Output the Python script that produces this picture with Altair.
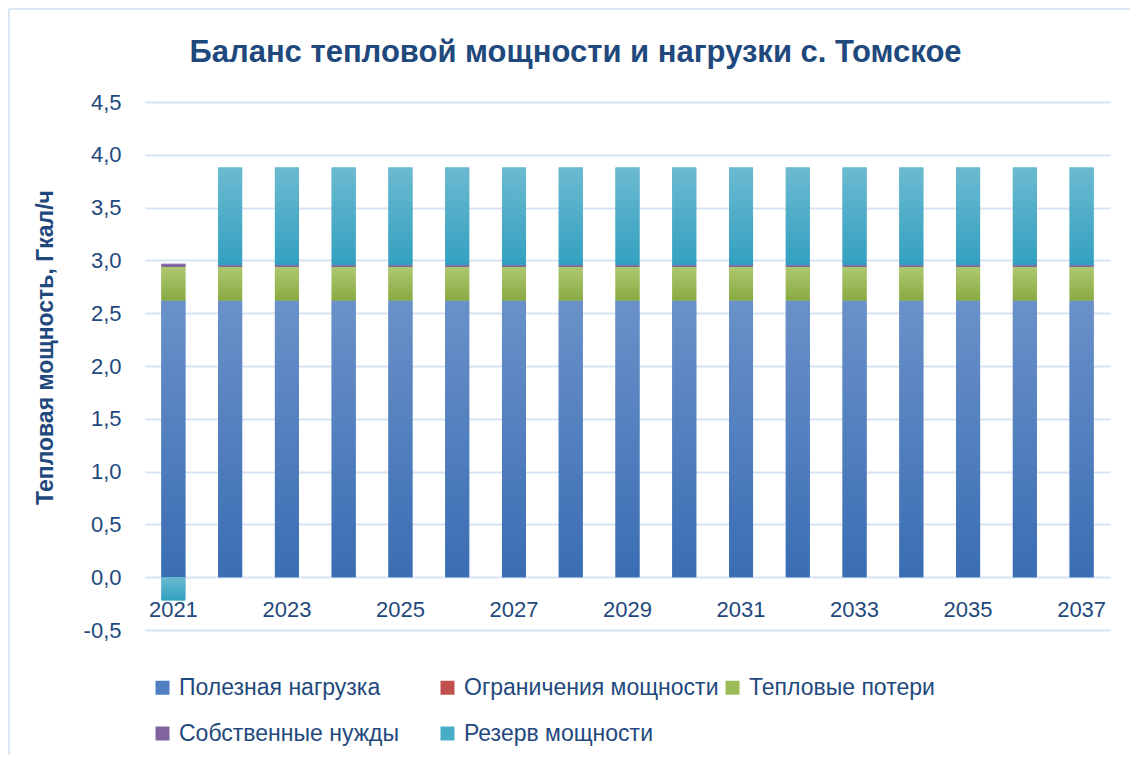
import altair as alt
import pandas as pd

years = [2021, 2022, 2023, 2024, 2025, 2026, 2027, 2028, 2029,
         2030, 2031, 2032, 2033, 2034, 2035, 2036, 2037]
useful_load = [2.62, 2.62, 2.62, 2.62, 2.62, 2.62, 2.62, 2.62, 2.62,
               2.62, 2.62, 2.62, 2.62, 2.62, 2.62, 2.62, 2.62]
limitations = [0.0, 0.0, 0.0, 0.0, 0.0, 0.0, 0.0, 0.0, 0.0,
               0.0, 0.0, 0.0, 0.0, 0.0, 0.0, 0.0, 0.0]
heat_losses = [0.32, 0.32, 0.32, 0.32, 0.32, 0.32, 0.32, 0.32, 0.32,
               0.32, 0.32, 0.32, 0.32, 0.32, 0.32, 0.32, 0.32]
own_needs = [0.028, 0.016, 0.016, 0.016, 0.016, 0.016, 0.016, 0.016, 0.016,
             0.016, 0.016, 0.016, 0.016, 0.016, 0.016, 0.016, 0.016]
reserve = [-0.22, 0.924, 0.924, 0.924, 0.924, 0.924, 0.924, 0.924, 0.924,
           0.924, 0.924, 0.924, 0.924, 0.924, 0.924, 0.924, 0.924]

series_names = ["Полезная нагрузка", "Ограничения мощности", "Тепловые потери",
                "Собственные нужды", "Резерв мощности"]
series_colors = ["#4F7FC0", "#C0504D", "#9BBB59", "#8064A2", "#4AADC8"]
# top / bottom shades for the gradient fill of each series
series_top = ["#6A91C9", "#CF6B68", "#AEC870", "#9279B3", "#6BBAD0"]
series_bottom = ["#3A6DB3", "#B03F3C", "#88AA42", "#6E5292", "#33A0C0"]
series_values = [useful_load, limitations, heat_losses, own_needs, reserve]

rows = []
for si, (name, vals) in enumerate(zip(series_names, series_values)):
    for y, v in zip(years, vals):
        rows.append({"year": y, "series": name, "value": v, "order": si})
df = pd.DataFrame(rows)

FONT = "Liberation Sans"
TEXT = "#1F497D"
GRID = "#D7E3F3"
FRAME = "#DCE6F2"

y_label_expr = "(datum.value < 0 ? '-' : '') + replace(format(abs(datum.value), '.1f'), '.', ',')"

x_enc = alt.X("year:O", title=None,
              scale=alt.Scale(paddingInner=0.577, paddingOuter=0.2885),
              axis=alt.Axis(values=[2021, 2023, 2025, 2027, 2029, 2031, 2033, 2035, 2037],
                            labelAngle=0, domain=False, ticks=False, grid=False,
                            offset=-53, labelPadding=22, labelFontSize=22,
                            labelColor=TEXT, labelFont=FONT))
y_enc = alt.Y("y0:Q",
              title="Тепловая мощность, Гкал/ч",
              scale=alt.Scale(domain=[-0.5, 4.5], nice=False, zero=False),
              axis=alt.Axis(values=[-0.5, 0, 0.5, 1.0, 1.5, 2.0, 2.5, 3.0, 3.5, 4.0, 4.5],
                            labelExpr=y_label_expr, domain=False, ticks=False,
                            labelPadding=24, labelFontSize=22, labelColor=TEXT,
                            labelFont=FONT, gridColor=GRID, gridWidth=2,
                            titleFont=FONT, titleFontSize=23, titleFontWeight="bold",
                            titleColor=TEXT, titleX=-100, titleY=245,
                            titleBaseline="middle", titleAlign="center", titleAngle=-90))
y2_enc = alt.Y2("y1:Q")

base = alt.Chart(df).transform_stack(
    stack="value", groupby=["year"], as_=["y0", "y1"],
    sort=[alt.SortField("order", order="ascending")], offset="zero",
)

solid = base.mark_bar().encode(
    x=x_enc, y=y_enc, y2=y2_enc,
    color=alt.Color("series:N",
                    scale=alt.Scale(domain=series_names, range=series_colors),
                    legend=alt.Legend(title=None, orient="none", legendX=6, legendY=574,
                                      direction="horizontal",
                                      columns=3, gridAlign="all", columnPadding=2,
                                      rowPadding=22, symbolType="square", symbolSize=196,
                                      symbolStrokeWidth=0, labelOffset=5,
                                      labelFont=FONT, labelFontSize=23, labelColor=TEXT,
                                      labelLimit=400)),
    tooltip=["year:O", "series:N", "value:Q"],
)

layers = [solid]
for name, top, bottom in zip(series_names, series_top, series_bottom):
    grad = alt.LinearGradient(
        gradient="linear",
        stops=[alt.GradientStop(color=top, offset=0),
               alt.GradientStop(color=bottom, offset=1)],
        x1=0, x2=0, y1=0, y2=1,
    )
    layers.append(
        base.transform_filter(alt.datum.series == name)
        .mark_bar(color=grad)
        .encode(x=x_enc, y=y_enc, y2=y2_enc)
    )

# decorative chart frame (top and left edges, as in the reference)
frame_src = alt.Chart(pd.DataFrame({"k": [0]}))
frame_top = frame_src.mark_rule(color=FRAME, strokeWidth=2).encode(
    x=alt.value(-136), x2=alt.value(985), y=alt.value(-93))
frame_left = frame_src.mark_rule(color=FRAME, strokeWidth=2).encode(
    x=alt.value(-136), y=alt.value(-93), y2=alt.value(653))
layers += [frame_top, frame_left]

chart = alt.layer(*layers).properties(
    width=965,
    height=528,
    title=alt.TitleParams("Баланс тепловой мощности и нагрузки с. Томское",
                          font=FONT, fontSize=31, fontWeight="bold", color=TEXT,
                          anchor="middle", dx=-52, offset=-61),
    autosize=alt.AutoSizeParams(type="none"),
    padding={"left": 137, "top": 94, "right": 20, "bottom": 125},
).configure_view(stroke=None)

chart.save("out.html", embed_options={"renderer": "svg", "actions": False})
